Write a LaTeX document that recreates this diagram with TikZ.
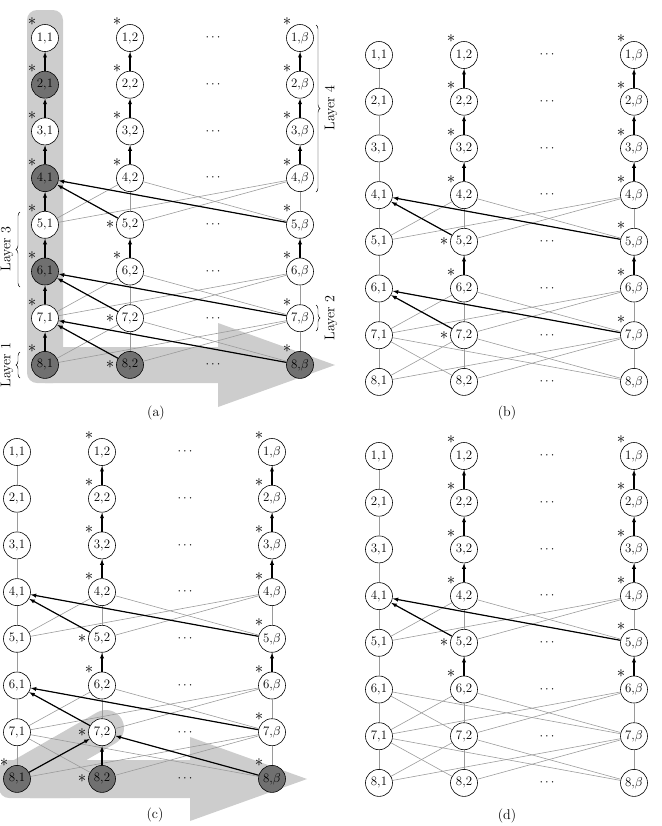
\documentclass[tikz,border=0pt]{standalone}
\usetikzlibrary{arrows.meta,decorations.pathreplacing}
\definecolor{wiregray}{HTML}{9A9A9A}
\definecolor{shadegray}{HTML}{707070}
\definecolor{bandgray}{HTML}{CDCDCD}

% one panel: 8 rows, columns 1, 2 and beta
\newcommand{\lattice}[3]{%
 \foreach \row in {1,...,8}{
  \node[vtx,#1-\row-1/.try] (#1-\row-1) at ({#2},{#3+46.7*(\row-1)}) {\row,1};
  \node[vtx,#1-\row-2/.try] (#1-\row-2) at ({#2+85},{#3+46.7*(\row-1)}) {\row,2};
  \node[vtx,#1-\row-b/.try] (#1-\row-b) at ({#2+255},{#3+46.7*(\row-1)}) {\row,$\beta$};
  \node[font=\fontsize{11}{13}\selectfont] (#1-\row-d) at ({#2+168},{#3+46.7*(\row-1)}) {$\cdots$};
 }
 \foreach \row [count=\nxt from 2] in {1,...,7}
  \foreach \c in {1,2,b} \draw[wire] (#1-\row-\c) -- (#1-\nxt-\c);
 \foreach \row/\nxt in {4/5,6/7,7/8}
  \foreach \p/\q in {1/2,1/b,2/1,2/b,b/1,b/2} \draw[wire] (#1-\row-\p) -- (#1-\nxt-\q);
}
\newcommand{\hops}[2]{\foreach \u/\v in {#2} \draw[hop] (#1-\u) -- (#1-\v);}
\newcommand{\stars}[3]{%
 \foreach \n in {#2} \node[starry,xshift=-3.9mm,yshift=4.8mm] (s#1-\n) at (#1-\n) {$\ast$};
 \foreach \n in {#3} \node[starry,xshift=-6mm] (s#1-\n) at (#1-\n) {$\ast$};
}

\begin{document}
\begin{tikzpicture}[x=0.03cm,y=-0.03cm,
 vtx/.style={circle,draw,fill=white,line width=0.5pt,minimum size=8.1mm,inner sep=0pt,font=\fontsize{11}{13}\selectfont},
 dark/.style={fill=shadegray},
 wire/.style={draw=wiregray,line width=0.5pt},
 hop/.style={-{Latex[length=1.7mm,width=1.3mm]},line width=1pt},
 starry/.style={inner sep=0pt,font=\Large},
 layer/.style={font=\large,rotate=90},
 curly/.style={decorate,decoration={brace,amplitude=1.2mm}},
 caption/.style={font=\large},
 a-2-1/.style=dark,a-4-1/.style=dark,a-6-1/.style=dark,a-8-1/.style=dark,a-8-2/.style=dark,a-8-b/.style=dark,
 c-8-1/.style=dark,c-8-2/.style=dark,c-8-b/.style=dark]
 \useasboundingbox (0,0) rectangle (662,826);
 % shaded sweeps
 \fill[bandgray,rounded corners=3mm] (27,10) rectangle (63,383);
 \fill[bandgray] (45,347) -- (218,347) -- (218,323) -- (335,365) -- (218,407) -- (218,383) -- (45,383) -- cycle;
 \fill[bandgray,rounded corners=3mm] (-1,760) rectangle (80,798);
 \fill[bandgray] (30,760) -- (190,760) -- (190,737) -- (307,779) -- (190,821) -- (190,798) -- (30,798) -- cycle;
 \draw[bandgray,line width=1.08cm,line cap=round] (17,779) -- (106,728);

 \lattice{a}{45}{38} \lattice{b}{379}{55} \lattice{c}{17}{452} \lattice{d}{379}{456}

 \foreach \pn in {a,b,c,d}
  \hops{\pn}{2-2/1-2,3-2/2-2,4-2/3-2,6-2/5-2,2-b/1-b,3-b/2-b,4-b/3-b,6-b/5-b,5-2/4-1,5-b/4-1};
 \foreach \pn in {a,b,c} \hops{\pn}{7-2/6-1,7-b/6-1};
 \hops{a}{2-1/1-1,3-1/2-1,4-1/3-1,5-1/4-1,6-1/5-1,7-1/6-1,8-1/7-1,8-2/7-1,8-b/7-1}
 \hops{c}{8-1/7-2,8-2/7-2,8-b/7-2}

 \stars{a}{1-1,2-1,3-1,4-1,5-1,6-1,7-1,8-1,1-2,2-2,3-2,4-2,6-2,1-b,2-b,3-b,4-b,5-b,6-b,7-b,8-b}{5-2,7-2,8-2}
 \stars{b}{1-2,2-2,3-2,4-2,6-2,1-b,2-b,3-b,4-b,5-b,6-b,7-b}{5-2,7-2}
 \stars{c}{8-1,1-2,2-2,3-2,4-2,6-2,1-b,2-b,3-b,4-b,5-b,6-b,7-b,8-b}{5-2,7-2,8-2}
 \stars{d}{1-2,2-2,3-2,4-2,6-2,1-b,2-b,3-b,4-b,5-b,6-b}{5-2}

 % layers of panel (a)
 \draw[curly] (316,25) -- (316,192);
 \node[layer] (lay4) at (331,108) {Layer 4};
 \draw[curly] (316,305) -- (316,331);
 \node[layer] (lay2) at (331,318) {Layer 2};
 \draw[curly] (20,287) -- (20,212);
 \node[layer] (lay3) at (7,249) {Layer 3};
 \draw[curly] (20,378) -- (20,352);
 \node[layer] (lay1) at (7,365) {Layer 1};

 \node[caption] (capa) at (156,413) {(a)};
 \node[caption] (capb) at (507,413) {(b)};
 \node[caption] (capc) at (155,815) {(c)};
 \node[caption] (capd) at (507,816) {(d)};
\end{tikzpicture}
\end{document}
